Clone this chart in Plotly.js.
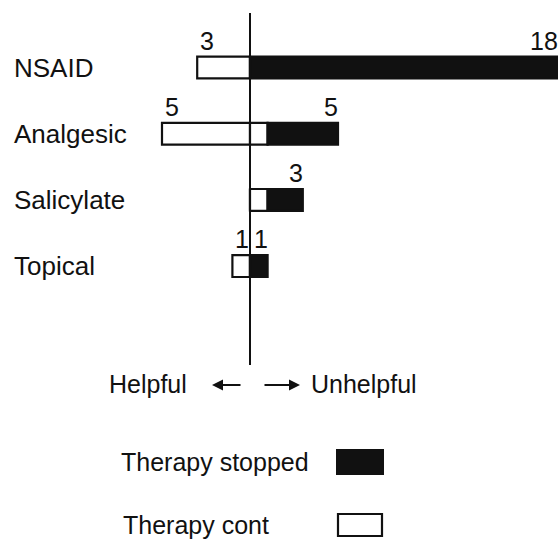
<!DOCTYPE html>
<html>
<head>
<meta charset="utf-8">
<script src="https://cdn.plot.ly/plotly-3.0.1.min.js"></script>
<style>html,body{margin:0;padding:0;background:#fff;}#chart{width:558px;height:541px;}</style>
</head>
<body>
<div id="chart"></div>
<script>
const categories = ["NSAID", "Analgesic", "Salicylate", "Topical"];
const helpfulCont = [3, 5, 0, 1];          // helpful (therapy continued)
const unhelpfulCont = [0, 1, 1, 0];        // unhelpful, therapy continued
const unhelpfulStopped = [18, 4, 2, 1];    // unhelpful, therapy stopped
const helpfulLabels = ["3", "5", "", "1"];
const unhelpfulLabels = ["18", "5", "3", "1"];

const W = 558, H = 541;
const pxPerUnit = 17.6;
const xRange = [-250 / pxPerUnit, 308 / pxPerUnit];
const catPx = 66.2, firstPx = 67.5;
const y0 = -firstPx / catPx;
const yRange = [y0 + H / catPx, y0];
const FONT = "Liberation Sans, Arial, sans-serif";
const INK = "#111";

const traces = [
  {type: "bar", orientation: "h", y: categories, x: helpfulCont.map(v => -v),
   marker: {color: "#fff", line: {color: INK, width: 2.2}}, hoverinfo: "skip", name: "Helpful"},
  {type: "bar", orientation: "h", y: categories, x: unhelpfulCont,
   marker: {color: "#fff", line: {color: INK, width: 2.2}}, hoverinfo: "skip", name: "Therapy cont"},
  {type: "bar", orientation: "h", y: categories, x: unhelpfulStopped,
   marker: {color: INK, line: {color: INK, width: 2.2}}, hoverinfo: "skip", name: "Therapy stopped"}
];

const ann = [];
categories.forEach((c, i) => {
  ann.push({xref: "paper", yref: "y", x: 12 / W, y: i, text: c, showarrow: false,
            xanchor: "left", yanchor: "middle", font: {family: FONT, size: 26, color: INK}});
  if (helpfulLabels[i]) {
    ann.push({xref: "x", yref: "y", x: -helpfulCont[i], y: i, text: helpfulLabels[i], showarrow: false,
              xanchor: "left", yanchor: "middle", xshift: 1, yshift: 27,
              font: {family: FONT, size: 25, color: INK}});
  }
  const tot = unhelpfulCont[i] + unhelpfulStopped[i];
  ann.push({xref: "x", yref: "y", x: Math.min(tot, xRange[1]), y: i, text: unhelpfulLabels[i], showarrow: false,
            xanchor: "right", yanchor: "middle", xshift: 2, yshift: 27,
            font: {family: FONT, size: 25, color: INK}});
});

function px(x) { return x / W; }
function py(y) { return 1 - y / H; }

ann.push({xref: "paper", yref: "paper", x: px(107), y: py(384), text: "Helpful", showarrow: false,
          xanchor: "left", yanchor: "middle", font: {family: FONT, size: 25, color: INK}});
ann.push({xref: "paper", yref: "paper", x: px(309), y: py(384), text: "Unhelpful", showarrow: false,
          xanchor: "left", yanchor: "middle", font: {family: FONT, size: 25, color: INK}});
ann.push({xref: "paper", yref: "paper", x: px(212), y: py(385), ax: 30, ay: 0, text: "",
          showarrow: true, arrowhead: 2, arrowsize: 1.1, arrowwidth: 2, arrowcolor: INK});
ann.push({xref: "paper", yref: "paper", x: px(300), y: py(385), ax: -37, ay: 0, text: "",
          showarrow: true, arrowhead: 2, arrowsize: 1.1, arrowwidth: 2, arrowcolor: INK});
ann.push({xref: "paper", yref: "paper", x: px(119), y: py(462), text: "Therapy stopped", showarrow: false,
          xanchor: "left", yanchor: "middle", font: {family: FONT, size: 25, color: INK}});
ann.push({xref: "paper", yref: "paper", x: px(121), y: py(525), text: "Therapy cont", showarrow: false,
          xanchor: "left", yanchor: "middle", font: {family: FONT, size: 25, color: INK}});

const shapes = [
  {type: "line", xref: "x", yref: "y", x0: 0, x1: 0, y0: y0 + 13 / catPx, y1: y0 + 365 / catPx,
   line: {color: INK, width: 2}, layer: "above"},
  {type: "rect", xref: "paper", yref: "paper", x0: px(337), x1: px(383), y0: py(474), y1: py(450),
   fillcolor: INK, line: {color: INK, width: 2}},
  {type: "rect", xref: "paper", yref: "paper", x0: px(338), x1: px(382), y0: py(536), y1: py(514),
   fillcolor: "#fff", line: {color: INK, width: 2.2}}
];

const layout = {
  width: W, height: H,
  margin: {l: 0, r: 0, t: 0, b: 0, pad: 0},
  paper_bgcolor: "#fff", plot_bgcolor: "#fff",
  barmode: "relative", bargap: 0.67,
  showlegend: false,
  xaxis: {range: xRange, visible: false, fixedrange: true},
  yaxis: {type: "category", categoryarray: categories, range: yRange, visible: false, fixedrange: true},
  annotations: ann,
  shapes: shapes
};

Plotly.newPlot("chart", traces, layout, {staticPlot: true});
</script>
</body>
</html>
